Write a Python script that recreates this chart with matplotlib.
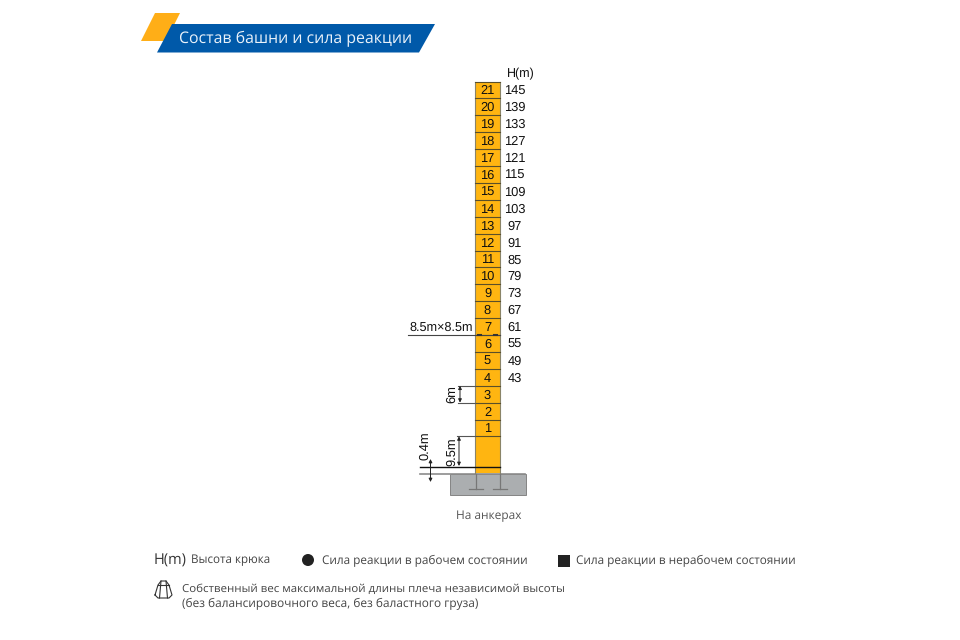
import matplotlib
matplotlib.use('Agg')
import matplotlib.pyplot as plt
from matplotlib.patches import Polygon, Rectangle, Circle

sections = list(range(1, 22))
heights = [145, 139, 133, 127, 121, 115, 109, 103, 97, 91, 85, 79, 73, 67, 61, 55, 49, 43]
title = 'Состав башни и сила реакции'
foot_label = 'На анкерах'
ui_font = ['Open Sans', 'DejaVu Sans']
num_font = ['Liberation Sans', 'DejaVu Sans']

AMBER = '#FFB511'
BLUE = '#0059A9'
LINE = '#5a4f2a'
TEXT = '#333333'
GREY = '#ABAEB0'

plt.rcParams['text.hinting'] = 'none'

# drawing scale: one axis unit is one pixel, y goes down
TOP = 81.5
STEP = 16.9
LEFT, RIGHT = 475, 500

fig = plt.figure(figsize=(9.6, 6.4), dpi=100)
ax = fig.add_axes([0, 0, 1, 1])
ax.set_xlim(0, 960)
ax.set_ylim(640, 0)
ax.axis('off')


def vdim(x, y0, y1):
    ax.annotate('', xy=(x, y0), xytext=(x, y1),
                arrowprops=dict(arrowstyle='<|-|>', color='#222222', lw=0.7,
                                mutation_scale=5, shrinkA=0, shrinkB=0))


# header banner
ax.add_patch(Polygon([(155, 13), (180, 13), (166, 41), (141, 41)], color='#FFAE17', lw=0))
ax.add_patch(Polygon([(172, 24), (435, 24), (419, 52.5), (157, 52.5)], color=BLUE, lw=0))
ax.text(179, 38.5, title, color='#EAF2FA', fontsize=11.4, family=ui_font, va='center', ha='left')

# foundation
ax.add_patch(Rectangle((450, 474), 75.5, 21, fc=GREY, ec='#777777', lw=0.6))
ax.plot([420, 525], [473.7, 473.7], color='#8c8c8c', lw=1.2)

# tower
bottom = TOP + STEP * len(sections)
ax.add_patch(Rectangle((LEFT, TOP), RIGHT - LEFT, 473 - TOP, fc=AMBER, ec='none'))
ax.plot([LEFT, LEFT], [TOP, 473], color='#8a8468', lw=0.8)
ax.plot([RIGHT, RIGHT], [TOP, 473], color='#8a8468', lw=0.8)
for i, s in enumerate(reversed(sections)):
    ytop = TOP + STEP * i
    ax.plot([LEFT, RIGHT], [ytop, ytop], color=LINE, lw=0.8)
    ax.text(487.5, ytop + STEP / 2 + 1.1, str(s), fontsize=9.3, family=num_font, color='#111111',
            ha='center', va='center')
ax.plot([LEFT, RIGHT], [bottom, bottom], color=LINE, lw=0.8)

# hook heights
ax.text(506.5, 74, 'H(m)', fontsize=9, family=num_font, color='#111111', va='center')
for i, h in enumerate(heights):
    x = 504 if h > 100 else 507.5
    ax.text(x, TOP + STEP * (i + 0.5) + 1.1, str(h), fontsize=9.3, family=num_font, color='#111111', va='center')

# anchors
for xa in (476, 500):
    ax.plot([xa, xa], [474, 489], color='#777777', lw=0.9)
    ax.plot([xa - 7, xa + 7], [489, 489], color='#777777', lw=0.9)

# dimension lines
y6 = TOP + STEP * 15
ax.plot([408, RIGHT], [y6, y6], color='#444444', lw=0.8)
ax.plot([478, 481], [y6, y6], color='#333333', lw=1.5)
ax.plot([494, 497], [y6, y6], color='#333333', lw=1.5)
ax.text(441, 328, '8.5m×8.5m', fontsize=9.1, family=num_font, color='#111111', ha='center', va='center')

ys3 = TOP + STEP * 18
for y in (ys3, ys3 + STEP):
    ax.plot([458, LEFT], [y, y], color='#555555', lw=0.8)
vdim(460, ys3, ys3 + STEP)
ax.text(451.5, 394, '6m', fontsize=9.3, family=num_font, color='#111111', rotation=90, ha='center', va='center')

ax.plot([457, LEFT], [bottom, bottom], color='#555555', lw=0.8)
vdim(459, bottom, 466)
ax.text(451.5, 451.5, '9.5m', fontsize=9.3, family=num_font, color='#111111', rotation=90, ha='center', va='center')

ax.plot([420, RIGHT], [466.5, 466.5], color='#111111', lw=1)
vdim(430.5, 459, 482)
ax.text(425.5, 445.5, '0.4m', fontsize=9.3, family=num_font, color='#111111', rotation=90, ha='center', va='center')

ax.text(488.5, 515.5, foot_label, fontsize=8.6, family=ui_font, color='#555555', ha='center', va='center')

# legend
ax.text(154, 560.5, 'H(m)', fontsize=10.5, family=ui_font, color=TEXT, va='center')
ax.text(191, 560.5, 'Высота крюка', fontsize=8.4, family=ui_font, color='#444444', va='center')
ax.add_patch(Circle((308, 560), 6, color='#222222', lw=0))
ax.text(322, 560.5, 'Сила реакции в рабочем состоянии', fontsize=8.45, family=ui_font, color='#444444', va='center')
ax.add_patch(Rectangle((558, 554.5), 12, 12, color='#222222', lw=0))
ax.text(576, 560.5, 'Сила реакции в нерабочем состоянии', fontsize=8.45, family=ui_font, color='#444444', va='center')

# self weight icon
ax.plot([155, 158, 161, 166, 169, 172, 169, 158, 155], [595, 585, 581, 581, 585, 595, 598, 598, 595],
        color='#333333', lw=0.8, solid_joinstyle='round')
ax.plot([158, 169], [585, 585], color='#333333', lw=0.8)
ax.plot([161, 159.5], [581, 598], color='#333333', lw=0.8)
ax.plot([166, 167.5], [581, 598], color='#333333', lw=0.8)
ax.text(182, 589.5, 'Собственный вес максимальной длины плеча независимой высоты', fontsize=8.24,
        family=ui_font, color='#444444', va='center')
ax.text(182, 603.5, '(без балансировочного веса, без баластного груза)', fontsize=8.57,
        family=ui_font, color='#444444', va='center')

fig.savefig('out.png', dpi=100, facecolor='white')
